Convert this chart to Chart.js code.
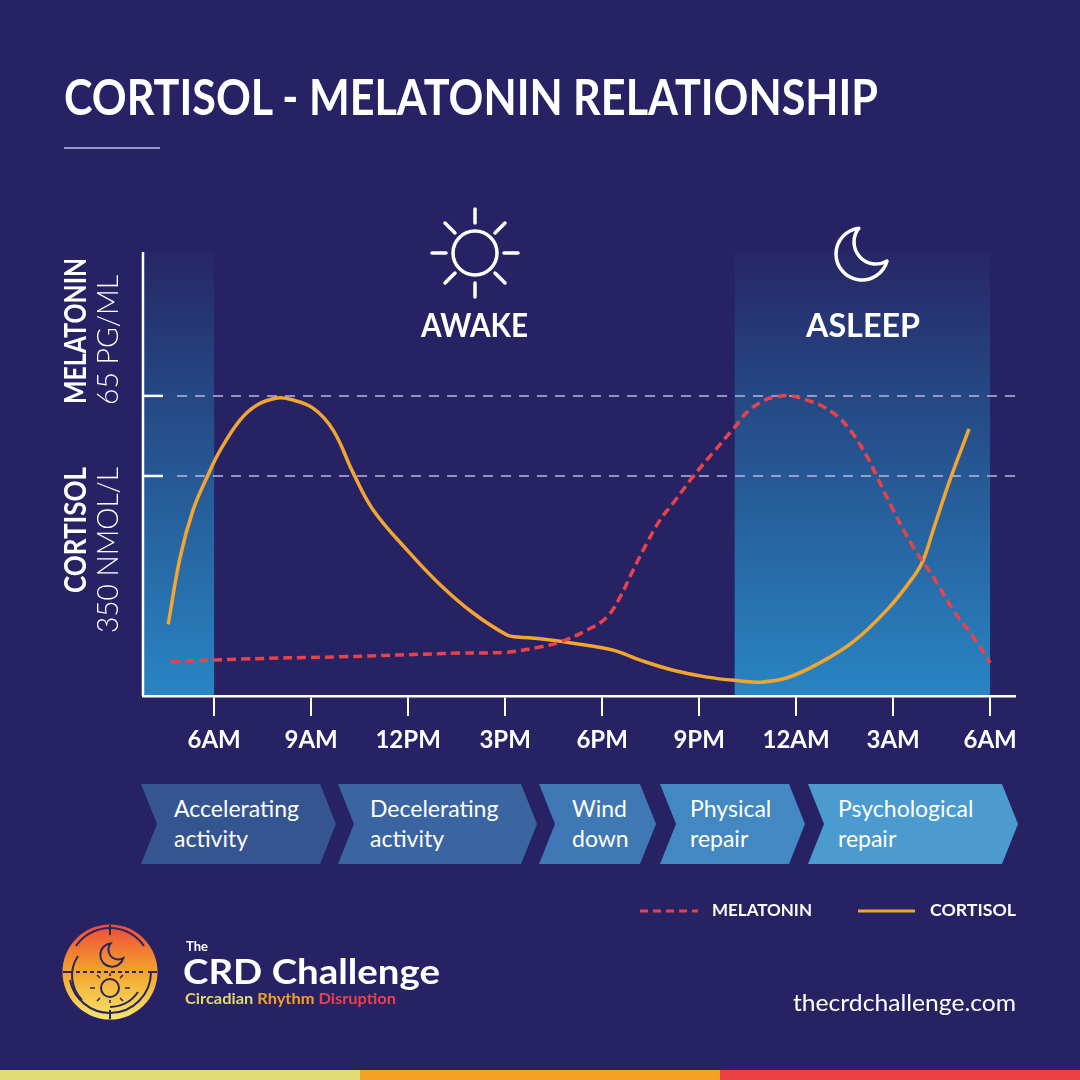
<!DOCTYPE html>
<html>
<head>
<meta charset="utf-8">
<script src="https://cdn.jsdelivr.net/npm/chart.js@4.4.1/dist/chart.umd.min.js"></script>
<style>
  html, body { margin:0; padding:0; }
  body { width:1080px; height:1080px; background:#272263; position:relative; overflow:hidden;
         font-family:Lato, 'Open Sans', sans-serif; color:#fff; }
  #chart { position:absolute; left:0; top:0; }
  .abs { position:absolute; white-space:nowrap; line-height:1; transform-origin:left top; }
  #title { left:64px; top:72px; font-size:49px; font-weight:700; }
  #rule { position:absolute; left:64px; top:147px; width:96px; height:2px; background:#9a98c8; }
  .phase { position:absolute; font-weight:700; font-size:32px; line-height:1; }
  .chev { position:absolute; top:784px; height:80px; box-sizing:border-box; padding-top:9px;
          font-size:23px; line-height:30px; color:#fff;
          clip-path:polygon(0 0, calc(100% - 16px) 0, 100% 50%, calc(100% - 16px) 100%, 0 100%, 16px 50%); }
  .leg { position:absolute; top:901px; font-size:17px; font-weight:700; line-height:1; }
  #site { left:793px; top:991px; font-size:23px; }
  #the { left:186px; top:940px; font-size:13px; font-weight:700; }
  #crd { left:183px; top:953px; font-size:35px; font-weight:700; }
  #sub { left:185px; top:990px; font-size:16px; font-weight:700; }
  .stripe { position:absolute; top:1070px; height:10px; }
</style>
</head>
<body>
<canvas id="chart" width="1080" height="1080"></canvas>

<div id="title" class="abs" data-w="814">CORTISOL - MELATONIN RELATIONSHIP</div>
<div id="rule"></div>

<svg class="abs" style="left:0;top:0" width="1080" height="320">
  <g stroke="#fff" stroke-width="3.5" fill="none" stroke-linecap="round">
    <circle cx="475" cy="253" r="22"/>
    <line x1="475" y1="209" x2="475" y2="223"/>
    <line x1="475" y1="283" x2="475" y2="297"/>
    <line x1="432" y1="253" x2="446" y2="253"/>
    <line x1="504" y1="253" x2="518" y2="253"/>
    <line x1="445" y1="223" x2="455" y2="233"/>
    <line x1="505" y1="223" x2="495" y2="233"/>
    <line x1="445" y1="283" x2="455" y2="273"/>
    <line x1="505" y1="283" x2="495" y2="273"/>
    <path transform="translate(862,254)" d="M25.03,7.03 A26,26 0 1 1 -3.12,-25.81 A22,22 0 0 0 25.03,7.03 Z" stroke-linejoin="round"/>
  </g>
</svg>
<div class="phase abs" style="left:421px;top:309px" data-w="107">AWAKE</div>
<div class="phase abs" style="left:806px;top:309px" data-w="114">ASLEEP</div>

<div class="chev" style="left:141px;width:195px;background:#355590;padding-left:33px">Accelerating<br>activity</div>
<div class="chev" style="left:338px;width:199px;background:#3a65a1;padding-left:32px">Decelerating<br>activity</div>
<div class="chev" style="left:539px;width:117px;background:#3f78b5;padding-left:33px">Wind<br>down</div>
<div class="chev" style="left:660px;width:145px;background:#4387c3;padding-left:30px">Physical<br>repair</div>
<div class="chev" style="left:808px;width:210px;background:#4b9ad0;padding-left:30px">Psychological<br>repair</div>

<svg class="abs" style="left:0;top:890px" width="1080" height="40">
  <line x1="640" y1="21" x2="698" y2="21" stroke="#e8434b" stroke-width="3" stroke-dasharray="8 5"/>
  <line x1="858" y1="21" x2="915" y2="21" stroke="#f2a531" stroke-width="3"/>
</svg>
<div class="leg abs" style="left:712px" data-w="100">MELATONIN</div>
<div class="leg abs" style="left:930px" data-w="86">CORTISOL</div>

<div id="site" class="abs" data-w="223">thecrdchallenge.com</div>

<svg class="abs" style="left:0;top:900px" width="180" height="140">
  <defs>
    <linearGradient id="lg" x1="0" y1="0" x2="0" y2="1">
      <stop offset="0" stop-color="#ee4a3c"/>
      <stop offset="0.5" stop-color="#f4a52c"/>
      <stop offset="1" stop-color="#f6e56c"/>
    </linearGradient>
  </defs>
  <circle cx="110" cy="72" r="47.5" fill="url(#lg)"/>
  <g stroke="#2a2560" stroke-width="2" fill="none">
    <path d="M76,46 A41,41 0 0 1 144,46"/>
    <path d="M151,72 A41,41 0 0 1 110,113 A41,41 0 0 1 70,80"/>
    <path d="M82,100 A35,35 0 0 1 78,56"/>
    <path d="M138,92 A35,35 0 0 1 110,107"/>
    <line x1="110" y1="25" x2="110" y2="35"/>
    <line x1="110" y1="110" x2="110" y2="119"/>
    <line x1="63" y1="72" x2="72" y2="72"/>
    <line x1="148" y1="72" x2="157" y2="72"/>
    <line x1="76" y1="72" x2="146" y2="72" stroke-dasharray="4 3"/>
    <path transform="translate(112,55) scale(0.45)" stroke-width="4.5" d="M25.03,7.03 A26,26 0 1 1 -3.12,-25.81 A22,22 0 0 0 25.03,7.03 Z"/>
    <circle cx="110" cy="88" r="9"/>
    <path d="M95,88 h-5 M125,88 h5 M110,76 v-3 M100,78 l-3,-3 M120,78 l3,-3 M100,98 l-3,3 M120,98 l3,3 M110,100 v3" stroke-width="1.6"/>
  </g>
</svg>
<div id="the" class="abs">The</div>
<div id="crd" class="abs" data-w="257">CRD Challenge</div>
<div id="sub" class="abs" data-w="211"><span style="color:#e0d972">Circadian</span> <span style="color:#f4a024">Rhythm</span> <span style="color:#e8434b">Disruption</span></div>

<div class="stripe" style="left:0;width:360px;background:#e3dc76"></div>
<div class="stripe" style="left:360px;width:360px;background:#f4a024"></div>
<div class="stripe" style="left:720px;width:360px;background:#ec4141"></div>

<script>
// time axis in hours: 6 = 6AM, 24 = midnight, 30 = 6AM next day
const tickHours = [6, 9, 12, 15, 18, 21, 24, 27, 30];
const tickLabels = ['6AM', '9AM', '12PM', '3PM', '6PM', '9PM', '12AM', '3AM', '6AM'];

// shaded (dark / sleep) periods
const bandStart = [3.8, 22.1];
const bandEnd = [6, 30];

// reference levels
const melatoninRef = 65;   // pg/mL
const cortisolRef = 350;   // nmol/L

// cortisol, nmol/L
const cortisolHours = [4.58, 4.95, 5.35, 5.78, 6.19, 6.8, 7.33, 7.95, 8.35, 9.06, 9.68, 10.3, 10.92, 11.97, 12.99,
  14.01, 15.06, 15.37, 16.08, 17.1, 18.34, 19.18, 20.2, 21.25, 22.27, 22.89, 23.72, 24.74, 25.76, 26.81, 27.62,
  27.93, 28.24, 28.76, 29.35];
const cortisolValues = [114, 221, 296, 348, 391, 439, 463, 474, 472, 458, 423, 355, 296, 232, 177,
  132, 97, 94, 91, 84, 73, 57, 41, 30, 24, 22, 29, 53, 86, 137, 189,
  216, 264, 344, 425];

// melatonin, pg/mL
const melatoninHours = [4.67, 6.8, 9.9, 13.61, 15.06, 16.08, 16.7, 17.54, 18.15, 18.56, 18.96, 19.39, 19.79, 20.2,
  20.81, 21.43, 22.05, 22.67, 23.51, 24.34, 25.15, 25.67, 26.2, 26.5, 27.0, 27.62, 28.24, 28.86, 29.48, 30.0];
const melatoninValues = [7.4, 8.0, 8.5, 9.3, 9.5, 10.6, 11.7, 14.3, 17.1, 21.5, 27.3, 33.2, 38.1, 41.8,
  47.5, 52.7, 57.8, 62.6, 65.0, 64.1, 61.3, 57.6, 51.8, 47.5, 40.3, 32.3, 25.8, 18.6, 12.8, 7.2];

const FONT = 'Lato, "Open Sans", sans-serif';

function drawRotated(ctx, text, font, x, yStart, len) {
  ctx.save();
  ctx.font = font;
  ctx.translate(x, yStart);
  ctx.rotate(-Math.PI / 2);
  const w = ctx.measureText(text).width;
  ctx.scale(len / w, 1);
  ctx.textAlign = 'left';
  ctx.textBaseline = 'alphabetic';
  ctx.fillStyle = '#fff';
  ctx.fillText(text, 0, 0);
  ctx.restore();
}

const backdrop = {
  id: 'backdrop',
  beforeDraw(chart) {
    const { ctx, chartArea: a, scales } = chart;
    const top = a.top, bottom = a.bottom;
    // sleep bands
    const g = ctx.createLinearGradient(0, top, 0, bottom);
    g.addColorStop(0, '#272665');
    g.addColorStop(0.35, '#254a86');
    g.addColorStop(1, '#2985c3');
    ctx.save();
    ctx.fillStyle = g;
    bandStart.forEach((s, i) => {
      const x1 = scales.x.getPixelForValue(s);
      const x2 = scales.x.getPixelForValue(bandEnd[i]);
      ctx.fillRect(x1, top, x2 - x1, bottom - top);
    });
    // reference lines
    const refs = [scales.yM.getPixelForValue(melatoninRef), scales.yC.getPixelForValue(cortisolRef)];
    refs.forEach(y => {
      ctx.strokeStyle = '#fff';
      ctx.lineWidth = 2.5;
      ctx.setLineDash([]);
      ctx.beginPath(); ctx.moveTo(a.left, y); ctx.lineTo(a.left + 20, y); ctx.stroke();
      ctx.strokeStyle = '#b9b7de';
      ctx.lineWidth = 1.5;
      ctx.setLineDash([10, 8]);
      ctx.beginPath(); ctx.moveTo(a.left + 34, y); ctx.lineTo(a.right, y); ctx.stroke();
    });
    ctx.setLineDash([]);
    // y axis line
    ctx.strokeStyle = '#fff';
    ctx.lineWidth = 2.5;
    ctx.beginPath(); ctx.moveTo(a.left, top + 2); ctx.lineTo(a.left, bottom); ctx.stroke();
    ctx.restore();
    // axis captions
    drawRotated(ctx, 'MELATONIN', '700 30px ' + FONT, 86, refs[0] + 8, 146);
    drawRotated(ctx, '65 PG/ML', '300 30px ' + FONT, 118, refs[0] + 9, 130);
    drawRotated(ctx, 'CORTISOL', '700 30px ' + FONT, 86, refs[1] - 9 + 126, 126);
    drawRotated(ctx, '350 NMOL/L', '300 30px ' + FONT, 118, refs[1] - 9 + 166, 166);
  }
};

new Chart(document.getElementById('chart'), {
  type: 'line',
  data: {
    datasets: [
      {
        label: 'MELATONIN',
        data: melatoninHours.map((h, i) => ({ x: h, y: melatoninValues[i] })),
        yAxisID: 'yM',
        borderColor: '#e8434b',
        borderWidth: 3.5,
        borderDash: [9, 5],
        pointRadius: 0,
        tension: 0.4
      },
      {
        label: 'CORTISOL',
        data: cortisolHours.map((h, i) => ({ x: h, y: cortisolValues[i] })),
        yAxisID: 'yC',
        borderColor: '#f2a531',
        borderWidth: 3.5,
        pointRadius: 0,
        tension: 0.4
      }
    ]
  },
  options: {
    responsive: false,
    animation: false,
    devicePixelRatio: 1,
    layout: { padding: { left: 143, right: 65, top: 250, bottom: 324 } },
    plugins: { legend: { display: false }, tooltip: { enabled: false } },
    scales: {
      x: {
        type: 'linear',
        min: 3.8,
        max: 30.77,
        afterBuildTicks: s => { s.ticks = tickHours.map(v => ({ value: v })); },
        afterFit: s => { s.height = 60; },
        ticks: {
          autoSkip: false,
          maxRotation: 0,
          padding: 10,
          color: '#fff',
          font: { family: FONT, size: 24, weight: '700' },
          callback: (v, i) => tickLabels[i]
        },
        grid: { drawOnChartArea: false, drawTicks: true, tickLength: 20, color: '#fff', lineWidth: 2 },
        border: { display: true, color: '#fff', width: 2.5 }
      },
      yM: { display: false, min: 0, max: 96.6 },
      yC: { display: false, min: 0, max: 709.5 }
    }
  },
  plugins: [backdrop]
});

document.fonts.ready.then(() => {
  document.querySelectorAll('[data-w]').forEach(el => {
    const w = el.getBoundingClientRect().width;
    el.style.transform = 'scaleX(' + (el.dataset.w / w) + ')';
  });
});
</script>
</body>
</html>
